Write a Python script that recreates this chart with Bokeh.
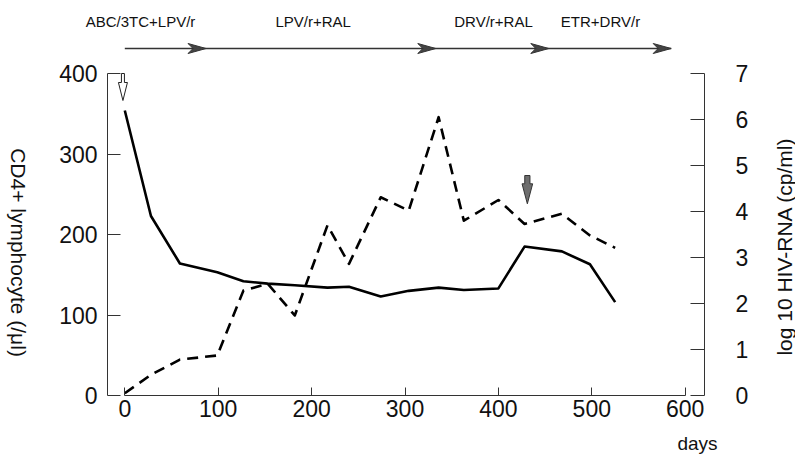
import math
from bokeh.plotting import figure
from bokeh.models import Range1d, LinearAxis, FixedTicker
from bokeh.embed import file_html
from bokeh.resources import INLINE
from bokeh.core.properties import value

# ---------------- data ----------------
days = [0, 28, 59, 99, 127, 153, 182, 217, 240, 274, 304, 336, 363, 400, 428, 468, 498, 525]
cd4 = [354, 223, 164, 153, 142, 139, 137, 134, 135, 123, 130, 134, 131, 133, 185, 179, 163, 116]
hiv_log = [0.05, 0.45, 0.78, 0.87, 2.28, 2.43, 1.74, 3.70, 2.86, 4.31, 4.02, 6.05, 3.80, 4.25, 3.73, 3.95, 3.48, 3.21]

regimens = ["ABC/3TC+LPV/r", "LPV/r+RAL", "DRV/r+RAL", "ETR+DRV/r"]
regimen_end_day = [87, 333, 454, 585]

x_ticks = [0, 100, 200, 300, 400, 500, 600]
cd4_ticks = [0, 100, 200, 300, 400]
hiv_ticks = [0, 1, 2, 3, 4, 5, 6, 7]

cd4_title = "CD4+ lymphocyte (/\u03bcl)"
hiv_title = "log 10 HIV-RNA (cp/ml)"
x_title = "days"

open_arrow_day = -2
grey_arrow_day = 431

# ---------------- layout ----------------
FONT = "Liberation Sans"
W, H = 795, 455
ORIGIN_X, ORIGIN_Y = 124.3, 395.0   # canvas px of (day 0, value 0)
XS = 0.934                           # px per day
CD4_PX = 0.805                       # px per CD4 unit
HIV_PX = 46.0                        # px per log unit
LEFT_AXIS_PX, RIGHT_AXIS_PX = 107.0, 704.0


def day_at(px):
    return (px - ORIGIN_X) / XS


def cd4_at(py):
    return (ORIGIN_Y - py) / CD4_PX


def dx(px):
    return px / XS


def dy(px):
    return px / CD4_PX


p = figure(width=W, height=H, x_range=Range1d(day_at(0), day_at(W)),
           y_range=Range1d(cd4_at(H), cd4_at(0)),
           output_backend="svg", toolbar_location=None, title=None,
           min_border=0, x_axis_location=None, y_axis_location=None)
p.outline_line_color = None
p.xgrid.visible = False
p.ygrid.visible = False
p.background_fill_color = "white"
p.border_fill_color = "white"
p.extra_y_ranges = {"hiv": Range1d(-(H - ORIGIN_Y) / HIV_PX, ORIGIN_Y / HIV_PX)}


def style_axis(ax):
    ax.axis_line_color = "#333333"
    ax.axis_line_width = 1
    ax.major_tick_line_color = "#333333"
    ax.major_tick_line_width = 1
    ax.minor_tick_line_color = None
    ax.major_tick_out = 0
    ax.major_label_text_font = FONT
    ax.major_label_text_font_size = "23px"
    ax.major_label_text_color = "#111111"


xaxis = LinearAxis(ticker=FixedTicker(ticks=x_ticks), bounds=(0, 600), fixed_location=0)
style_axis(xaxis)
xaxis.major_tick_in = 8
xaxis.major_label_standoff = 4
p.add_layout(xaxis, "below")

laxis = LinearAxis(ticker=FixedTicker(ticks=cd4_ticks), bounds=(0, 400),
                   fixed_location=day_at(LEFT_AXIS_PX))
style_axis(laxis)
laxis.major_tick_in = 13
laxis.major_label_standoff = 10
p.add_layout(laxis, "left")

raxis = LinearAxis(y_range_name="hiv", ticker=FixedTicker(ticks=hiv_ticks), bounds=(0, 7),
                   fixed_location=day_at(RIGHT_AXIS_PX))
style_axis(raxis)
raxis.major_tick_in = 14
raxis.major_label_standoff = 31
p.add_layout(raxis, "right")

# axis titles
p.text([day_at(18)], [cd4_at(252)], text=[cd4_title], angle=-math.pi / 2,
       text_font=value(FONT), text_font_size="21px", text_align="center",
       text_baseline="middle", text_color="#111111")
p.text([day_at(784)], [cd4_at(246)], text=[hiv_title], angle=math.pi / 2,
       text_font=value(FONT), text_font_size="21px", text_align="center",
       text_baseline="middle", text_color="#111111")
p.text([day_at(697)], [cd4_at(443)], text=[x_title], text_font=value(FONT), text_font_size="19px",
       text_align="center", text_baseline="middle", text_color="#111111")

# data lines
p.line(days, cd4, line_color="black", line_width=2.6, line_join="round")
p.line(days, hiv_log, y_range_name="hiv", line_color="black", line_width=2.6,
       line_dash="11 7", line_join="round")

# regimen timeline on top
line_y = cd4_at(48)
label_y = cd4_at(20.7)
p.line([0, regimen_end_day[-1]], [line_y, line_y], line_color="#333333", line_width=1.3)
hx, hy = [], []
for e in regimen_end_day:
    hx.append([e, e - dx(18), e - dx(13), e - dx(18)])
    hy.append([line_y, line_y + dy(5), line_y, line_y - dy(5)])
p.patches(hx, hy, fill_color="#444444", line_color="#333333", line_width=1)

label_x = [day_at(140), day_at(312.7), day_at(493), day_at(600)]
p.text(label_x, [label_y] * 4, text=regimens, text_font=value(FONT), text_font_size="15px",
       text_align="center", text_baseline="middle", text_color="#111111")

# open (white) arrow at start
tip_y = cd4_at(100)
ox = [open_arrow_day, open_arrow_day - dx(4.5), open_arrow_day - dx(1.5), open_arrow_day - dx(1.5),
      open_arrow_day + dx(1.5), open_arrow_day + dx(1.5), open_arrow_day + dx(4.5)]
oy = [tip_y, tip_y + dy(18), tip_y + dy(18), tip_y + dy(27), tip_y + dy(27), tip_y + dy(18), tip_y + dy(18)]
p.patch(ox, oy, fill_color="white", line_color="#222222", line_width=1)

# grey arrow
gtip = cd4_at(203.3)
gx = [grey_arrow_day, grey_arrow_day - dx(5.3), grey_arrow_day - dx(2.6), grey_arrow_day - dx(2.6),
      grey_arrow_day + dx(2.6), grey_arrow_day + dx(2.6), grey_arrow_day + dx(5.3)]
gy = [gtip, gtip + dy(20), gtip + dy(20), gtip + dy(28.3), gtip + dy(28.3), gtip + dy(20), gtip + dy(20)]
p.patch(gx, gy, fill_color="#6e6e6e", line_color="#333333", line_width=1)

open("out.html", "w").write(file_html(p, INLINE))
